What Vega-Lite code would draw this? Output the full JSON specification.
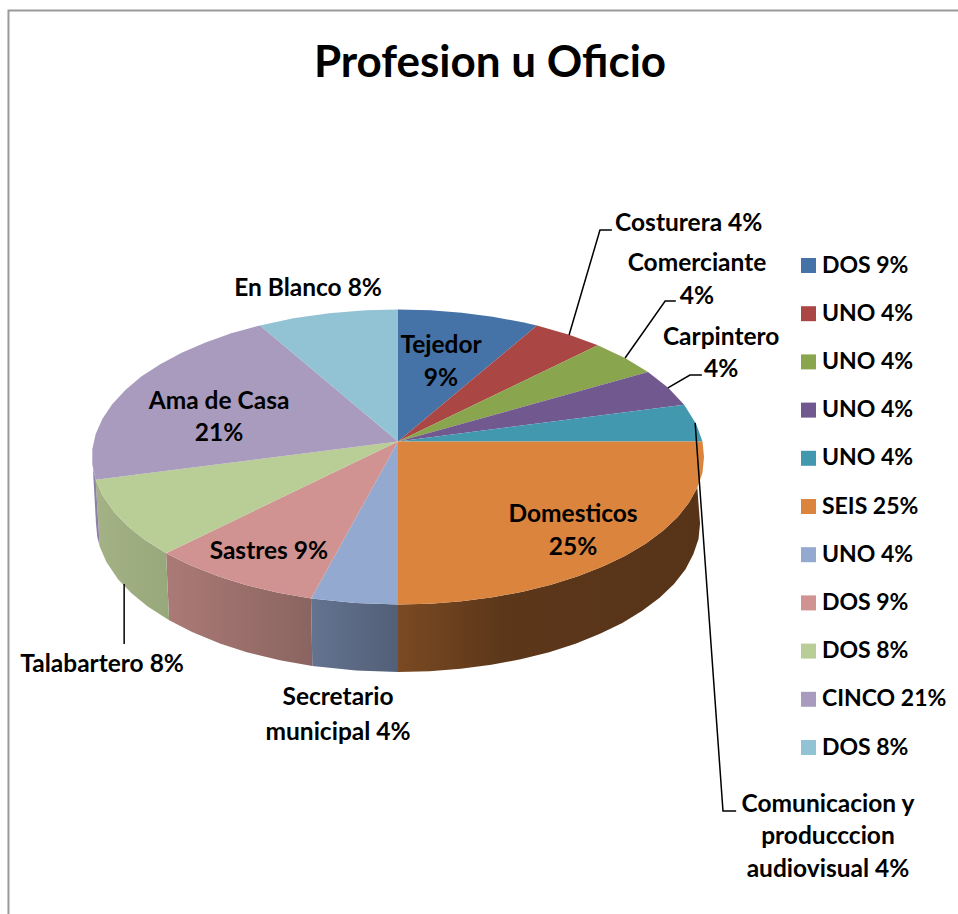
{
"$schema":"https://vega.github.io/schema/vega-lite/v6.json",
"width":958,"height":914,"padding":0,"autosize":{"type":"none"},
"background":"white",
"view":{"stroke":null},
"config":{"font":"Lato","view":{"stroke":null}},
"title":{"text":"Profesion u Oficio","font":"Lato","fontSize":44,"fontWeight":"bold","color":"#000000","anchor":"middle","dx":11,"dy":90},
"datasets":{
"caras":[
{"slice":"Tejedor","i":0,"x":0,"y":10.5},{"slice":"Tejedor","i":1,"x":0,"y":100},{"slice":"Tejedor","i":2,"x":10.5,"y":99.5},{"slice":"Tejedor","i":3,"x":20.8,"y":97.8},{"slice":"Tejedor","i":4,"x":30.9,"y":95.1},{"slice":"Tejedor","i":5,"x":40.7,"y":91.4},{"slice":"Tejedor","i":6,"x":45.4,"y":89.1},
{"slice":"Costurera","i":0,"x":0,"y":10.5},{"slice":"Costurera","i":1,"x":45.4,"y":89.1},{"slice":"Costurera","i":2,"x":55.9,"y":82.9},{"slice":"Costurera","i":3,"x":65.3,"y":75.7},
{"slice":"Comerciante","i":0,"x":0,"y":10.5},{"slice":"Comerciante","i":1,"x":65.3,"y":75.7},{"slice":"Comerciante","i":2,"x":74.3,"y":66.9},{"slice":"Comerciante","i":3,"x":81.7,"y":57.6},
{"slice":"Carpintero","i":0,"x":0,"y":10.5},{"slice":"Carpintero","i":1,"x":81.7,"y":57.6},{"slice":"Carpintero","i":2,"x":88.3,"y":46.9},{"slice":"Carpintero","i":3,"x":93.5,"y":35.5},
{"slice":"Comunicacion","i":0,"x":0,"y":10.5},{"slice":"Comunicacion","i":1,"x":93.5,"y":35.5},{"slice":"Comunicacion","i":2,"x":97.4,"y":22.5},{"slice":"Comunicacion","i":3,"x":99.5,"y":10.5},
{"slice":"Domesticos","i":0,"x":0,"y":10.5},{"slice":"Domesticos","i":1,"x":99.5,"y":10.5},{"slice":"Domesticos","i":2,"x":100,"y":0},{"slice":"Domesticos","i":3,"x":99.5,"y":-10.5},{"slice":"Domesticos","i":4,"x":97.8,"y":-20.8},{"slice":"Domesticos","i":5,"x":95.1,"y":-30.9},{"slice":"Domesticos","i":6,"x":91.4,"y":-40.7},{"slice":"Domesticos","i":7,"x":86.6,"y":-50},{"slice":"Domesticos","i":8,"x":80.9,"y":-58.8},{"slice":"Domesticos","i":9,"x":74.3,"y":-66.9},{"slice":"Domesticos","i":10,"x":66.9,"y":-74.3},{"slice":"Domesticos","i":11,"x":58.8,"y":-80.9},{"slice":"Domesticos","i":12,"x":50,"y":-86.6},{"slice":"Domesticos","i":13,"x":40.7,"y":-91.4},{"slice":"Domesticos","i":14,"x":30.9,"y":-95.1},{"slice":"Domesticos","i":15,"x":20.8,"y":-97.8},{"slice":"Domesticos","i":16,"x":10.5,"y":-99.5},{"slice":"Domesticos","i":17,"x":0,"y":-100},
{"slice":"Secretario","i":0,"x":0,"y":10.5},{"slice":"Secretario","i":1,"x":0,"y":-100},{"slice":"Secretario","i":2,"x":-13.9,"y":-99},{"slice":"Secretario","i":3,"x":-28.4,"y":-95.9},
{"slice":"Sastres","i":0,"x":0,"y":10.5},{"slice":"Sastres","i":1,"x":-28.4,"y":-95.9},{"slice":"Sastres","i":2,"x":-39.1,"y":-92.1},{"slice":"Sastres","i":3,"x":-50,"y":-86.6},{"slice":"Sastres","i":4,"x":-58.8,"y":-80.9},{"slice":"Sastres","i":5,"x":-68.2,"y":-73.1},{"slice":"Sastres","i":6,"x":-75.8,"y":-65.2},
{"slice":"Talabartero","i":0,"x":0,"y":10.5},{"slice":"Talabartero","i":1,"x":-75.8,"y":-65.2},{"slice":"Talabartero","i":2,"x":-82.9,"y":-55.9},{"slice":"Talabartero","i":3,"x":-88.3,"y":-46.9},{"slice":"Talabartero","i":4,"x":-92.7,"y":-37.5},{"slice":"Talabartero","i":5,"x":-96.6,"y":-25.9},{"slice":"Talabartero","i":6,"x":-98.8,"y":-15.5},
{"slice":"Ama de Casa","i":0,"x":0,"y":10.5},{"slice":"Ama de Casa","i":1,"x":-98.8,"y":-15.5},{"slice":"Ama de Casa","i":2,"x":-99.9,"y":-5.2},{"slice":"Ama de Casa","i":3,"x":-99.9,"y":5.2},{"slice":"Ama de Casa","i":4,"x":-98.8,"y":15.6},{"slice":"Ama de Casa","i":5,"x":-96.6,"y":25.9},{"slice":"Ama de Casa","i":6,"x":-93.4,"y":35.8},{"slice":"Ama de Casa","i":7,"x":-89.1,"y":45.4},{"slice":"Ama de Casa","i":8,"x":-83.9,"y":54.5},{"slice":"Ama de Casa","i":9,"x":-77.7,"y":62.9},{"slice":"Ama de Casa","i":10,"x":-70.7,"y":70.7},{"slice":"Ama de Casa","i":11,"x":-62.9,"y":77.7},{"slice":"Ama de Casa","i":12,"x":-54.5,"y":83.9},{"slice":"Ama de Casa","i":13,"x":-45.1,"y":89.2},
{"slice":"En Blanco","i":0,"x":0,"y":10.5},{"slice":"En Blanco","i":1,"x":-45.1,"y":89.2},{"slice":"En Blanco","i":2,"x":-34.2,"y":94},{"slice":"En Blanco","i":3,"x":-22.5,"y":97.4},{"slice":"En Blanco","i":4,"x":-10.5,"y":99.5},{"slice":"En Blanco","i":5,"x":0,"y":100}
],
"paredes":[
{"slice":"Domesticos","i":1,"x":97.8,"y":-20.8},{"slice":"Domesticos","i":2,"x":95.1,"y":-30.9},{"slice":"Domesticos","i":3,"x":91.4,"y":-40.7},{"slice":"Domesticos","i":4,"x":86.6,"y":-50},{"slice":"Domesticos","i":5,"x":80.9,"y":-58.8},{"slice":"Domesticos","i":6,"x":74.3,"y":-66.9},{"slice":"Domesticos","i":7,"x":66.9,"y":-74.3},{"slice":"Domesticos","i":8,"x":58.8,"y":-80.9},{"slice":"Domesticos","i":9,"x":50,"y":-86.6},{"slice":"Domesticos","i":10,"x":40.7,"y":-91.4},{"slice":"Domesticos","i":11,"x":30.9,"y":-95.1},{"slice":"Domesticos","i":12,"x":20.8,"y":-97.8},{"slice":"Domesticos","i":13,"x":10.5,"y":-99.5},{"slice":"Domesticos","i":14,"x":0,"y":-100},{"slice":"Domesticos","i":15,"x":0,"y":-145.8},{"slice":"Domesticos","i":16,"x":10.3,"y":-145.2},{"slice":"Domesticos","i":17,"x":20.5,"y":-143.6},{"slice":"Domesticos","i":18,"x":30.5,"y":-140.9},{"slice":"Domesticos","i":19,"x":40.1,"y":-137.1},{"slice":"Domesticos","i":20,"x":49.4,"y":-132.3},{"slice":"Domesticos","i":21,"x":58,"y":-126.6},{"slice":"Domesticos","i":22,"x":66,"y":-119.9},{"slice":"Domesticos","i":23,"x":73.3,"y":-112.5},{"slice":"Domesticos","i":24,"x":79.8,"y":-104.3},{"slice":"Domesticos","i":25,"x":85.5,"y":-95.5},{"slice":"Domesticos","i":26,"x":90.2,"y":-86.1},{"slice":"Domesticos","i":27,"x":93.9,"y":-76.2},{"slice":"Domesticos","i":28,"x":96.5,"y":-66},{"slice":"Domesticos","i":29,"x":98.2,"y":-55.6},{"slice":"Domesticos","i":30,"x":98.7,"y":-45.1},
{"slice":"Secretario","i":1,"x":0,"y":-100},{"slice":"Secretario","i":2,"x":-13.9,"y":-99},{"slice":"Secretario","i":3,"x":-28.4,"y":-95.9},{"slice":"Secretario","i":4,"x":-28,"y":-141.7},{"slice":"Secretario","i":5,"x":-13.7,"y":-144.8},{"slice":"Secretario","i":6,"x":0,"y":-145.8},
{"slice":"Sastres","i":1,"x":-28.4,"y":-95.9},{"slice":"Sastres","i":2,"x":-39.1,"y":-92.1},{"slice":"Sastres","i":3,"x":-50,"y":-86.6},{"slice":"Sastres","i":4,"x":-58.8,"y":-80.9},{"slice":"Sastres","i":5,"x":-68.2,"y":-73.1},{"slice":"Sastres","i":6,"x":-75.8,"y":-65.2},{"slice":"Sastres","i":7,"x":-74.8,"y":-110.7},{"slice":"Sastres","i":8,"x":-67.3,"y":-118.7},{"slice":"Sastres","i":9,"x":-58,"y":-126.6},{"slice":"Sastres","i":10,"x":-49.4,"y":-132.3},{"slice":"Sastres","i":11,"x":-38.6,"y":-137.8},{"slice":"Sastres","i":12,"x":-28,"y":-141.7},
{"slice":"Talabartero","i":1,"x":-75.8,"y":-65.2},{"slice":"Talabartero","i":2,"x":-82.9,"y":-55.9},{"slice":"Talabartero","i":3,"x":-88.3,"y":-46.9},{"slice":"Talabartero","i":4,"x":-92.7,"y":-37.5},{"slice":"Talabartero","i":5,"x":-96.6,"y":-25.9},{"slice":"Talabartero","i":6,"x":-98.8,"y":-15.5},{"slice":"Talabartero","i":7,"x":-97.5,"y":-60.7},{"slice":"Talabartero","i":8,"x":-95.3,"y":-71.2},{"slice":"Talabartero","i":9,"x":-91.5,"y":-82.8},{"slice":"Talabartero","i":10,"x":-87.1,"y":-92.4},{"slice":"Talabartero","i":11,"x":-81.8,"y":-101.4},{"slice":"Talabartero","i":12,"x":-74.8,"y":-110.7},
{"slice":"Ama de Casa","i":1,"x":-98.8,"y":-15.5},{"slice":"Ama de Casa","i":2,"x":-99.7,"y":-8},{"slice":"Ama de Casa","i":3,"x":-98.7,"y":-45.1},{"slice":"Ama de Casa","i":4,"x":-98.3,"y":-53.9},{"slice":"Ama de Casa","i":5,"x":-97.5,"y":-60.7}
],
"guias":[
{"guia":"Costurera","i":1,"x":55.9,"y":82.7},{"guia":"Costurera","i":2,"x":66,"y":153.9},{"guia":"Costurera","i":3,"x":69.9,"y":153.9},
{"guia":"Comerciante","i":1,"x":74.2,"y":67.1},{"guia":"Comerciante","i":2,"x":87.3,"y":105.8},{"guia":"Comerciante","i":3,"x":90.8,"y":105.8},
{"guia":"Carpintero","i":1,"x":88.2,"y":46.8},{"guia":"Carpintero","i":2,"x":95.4,"y":55.6},{"guia":"Carpintero","i":3,"x":99.3,"y":55.6},
{"guia":"Comunicacion","i":1,"x":97.1,"y":23.1},{"guia":"Comunicacion","i":2,"x":106.2,"y":-240},{"guia":"Comunicacion","i":3,"x":110.5,"y":-240},
{"guia":"Talabartero","i":1,"x":-89.5,"y":-86.1},{"guia":"Talabartero","i":2,"x":-89.5,"y":-126.8}
],
"marco":[
{"i":1,"x":-127.3,"y":-309.8},{"i":2,"x":-127.3,"y":302.7},{"i":3,"x":183,"y":302.7}
],
"textos":[
{"texto":"Tejedor","x":14.05,"y":76.6},{"texto":"9%","x":14.05,"y":54.2},
{"texto":"Costurera 4%","x":95,"y":159.3},
{"texto":"Comerciante","x":97.7,"y":132.2},{"texto":"4%","x":97.7,"y":109.8},
{"texto":"Carpintero","x":105.6,"y":82},{"texto":"4%","x":105.6,"y":59.7},
{"texto":"En Blanco 8%","x":-29.4,"y":114.6},
{"texto":"Ama de Casa","x":-58.5,"y":38.6},{"texto":"21%","x":-58.5,"y":16.3},
{"texto":"Domesticos","x":57.2,"y":-38.6},{"texto":"25%","x":57.2,"y":-61},
{"texto":"Sastres 9%","x":-42.2,"y":-63.1},
{"texto":"Talabartero 8%","x":-96.7,"y":-140.3},
{"texto":"Secretario","x":-19.6,"y":-162.7},{"texto":"municipal 4%","x":-19.6,"y":-185.8},
{"texto":"Comunicacion y","x":140.5,"y":-234.6},{"texto":"producccion","x":140.5,"y":-256.9},{"texto":"audiovisual 4%","x":140.5,"y":-279.3}
]
},
"encoding":{
"x":{"field":"x","type":"quantitative","axis":null,"scale":{"domain":[-130.07,183],"nice":false,"zero":false}},
"y":{"field":"y","type":"quantitative","axis":null,"scale":{"domain":[-309.83,309.83],"nice":false,"zero":false}}
},
"layer":[
{"data":{"name":"marco"},"mark":{"type":"line","stroke":"#9a9a9a","strokeWidth":2,"clip":false},"encoding":{"order":{"field":"i","type":"ordinal"}}},
{"data":{"name":"paredes"},"transform":[{"filter":"datum.slice=='Domesticos'"}],"mark":{"type":"line","strokeWidth":0,"fill":{"gradient":"linear","x1":0,"y1":0,"x2":1,"y2":0,"stops":[{"offset":0,"color":"#7a4a22"},{"offset":0.35,"color":"#5c371a"},{"offset":1,"color":"#573318"}]}},"encoding":{"order":{"field":"i","type":"ordinal"}}},
{"data":{"name":"paredes"},"transform":[{"filter":"datum.slice=='Secretario'"}],"mark":{"type":"line","strokeWidth":0,"fill":{"gradient":"linear","x1":0,"y1":0,"x2":1,"y2":0,"stops":[{"offset":0,"color":"#64738f"},{"offset":1,"color":"#525f78"}]}},"encoding":{"order":{"field":"i","type":"ordinal"}}},
{"data":{"name":"paredes"},"transform":[{"filter":"datum.slice=='Sastres'"}],"mark":{"type":"line","strokeWidth":0,"fill":{"gradient":"linear","x1":0,"y1":0,"x2":1,"y2":0,"stops":[{"offset":0,"color":"#ab7a77"},{"offset":1,"color":"#8a6460"}]}},"encoding":{"order":{"field":"i","type":"ordinal"}}},
{"data":{"name":"paredes"},"transform":[{"filter":"datum.slice=='Talabartero'"}],"mark":{"type":"line","strokeWidth":0,"fill":{"gradient":"linear","x1":0,"y1":0,"x2":1,"y2":0,"stops":[{"offset":0,"color":"#a4b285"},{"offset":1,"color":"#97a87b"}]}},"encoding":{"order":{"field":"i","type":"ordinal"}}},
{"data":{"name":"paredes"},"transform":[{"filter":"datum.slice=='Ama de Casa'"}],"mark":{"type":"line","strokeWidth":0,"fill":"#8d80a8"},"encoding":{"order":{"field":"i","type":"ordinal"}}},
{"data":{"name":"caras"},"mark":{"type":"line","strokeWidth":0},"encoding":{
"order":{"field":"i","type":"ordinal"},
"fill":{"field":"slice","type":"nominal","scale":{"domain":["Tejedor","Costurera","Comerciante","Carpintero","Comunicacion","Domesticos","Secretario","Sastres","Talabartero","Ama de Casa","En Blanco"],"range":["#4572a7","#aa4643","#89a54e","#71588f","#4198af","#db843d","#93a9cf","#d19392","#b9cd96","#a99bbd","#92c3d4"]},
"legend":{"title":null,"orient":"none","legendX":797,"legendY":254,"padding":0,"symbolType":"square","symbolSize":225,"symbolStrokeWidth":0,"labelFont":"Lato","labelFontSize":23,"labelFontWeight":"bold","labelColor":"#000000","labelLimit":200,"labelOffset":2,"rowPadding":24.2,
"labelExpr":"{'Tejedor':'DOS 9%','Costurera':'UNO 4%','Comerciante':'UNO 4%','Carpintero':'UNO 4%','Comunicacion':'UNO 4%','Domesticos':'SEIS 25%','Secretario':'UNO 4%','Sastres':'DOS 9%','Talabartero':'DOS 8%','Ama de Casa':'CINCO 21%','En Blanco':'DOS 8%'}[datum.label]"}}
}},
{"data":{"name":"guias"},"mark":{"type":"line","stroke":"#000000","strokeWidth":1.5},"encoding":{"detail":{"field":"guia"},"order":{"field":"i","type":"ordinal"}}},
{"data":{"name":"textos"},"mark":{"type":"text","font":"Lato","fontSize":24.5,"fontWeight":"bold","color":"#000000","align":"center","baseline":"middle","dy":1.5},"encoding":{"text":{"field":"texto"}}}
]
}
